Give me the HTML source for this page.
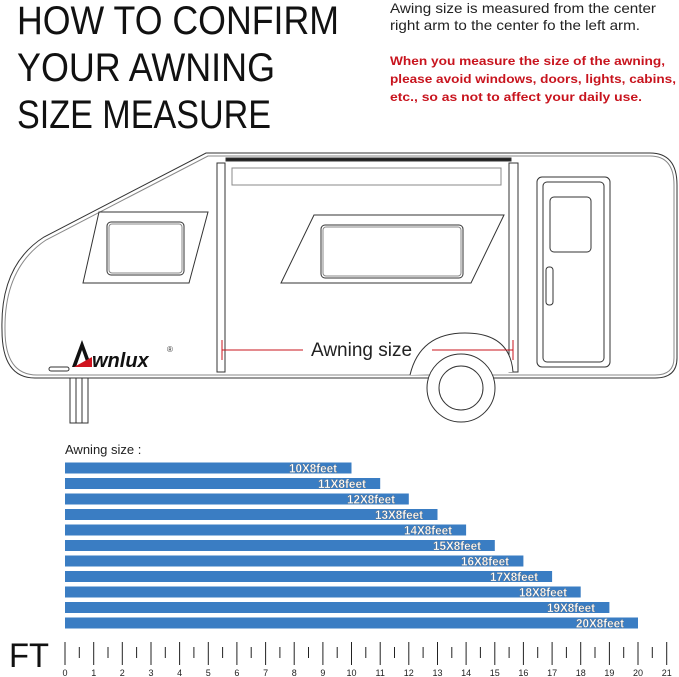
<!DOCTYPE html>
<html><head><meta charset="utf-8"><style>
html,body{margin:0;padding:0;background:#fff;}
svg{display:block;}
</style></head><body>
<svg width="679" height="677" viewBox="0 0 679 677" xmlns="http://www.w3.org/2000/svg" font-family="Liberation Sans, sans-serif">
<rect width="679" height="677" fill="#fff"/>
<g font-size="40" fill="#111">
<text x="17" y="34" textLength="322" lengthAdjust="spacingAndGlyphs">HOW TO CONFIRM</text>
<text x="17" y="81" textLength="258" lengthAdjust="spacingAndGlyphs">YOUR AWNING</text>
<text x="17" y="128" textLength="254" lengthAdjust="spacingAndGlyphs">SIZE MEASURE</text>
</g>
<g font-size="14" fill="#222">
<text x="390" y="13" textLength="266" lengthAdjust="spacingAndGlyphs">Awing size is measured from the center</text>
<text x="390" y="30" textLength="250" lengthAdjust="spacingAndGlyphs">right arm to the center fo the left arm.</text>
</g>
<g font-size="12" font-weight="bold" fill="#c8141e">
<text x="390" y="65" textLength="275" lengthAdjust="spacingAndGlyphs">When you measure the size of the awning,</text>
<text x="390" y="83" textLength="286" lengthAdjust="spacingAndGlyphs">please avoid windows, doors, lights, cabins,</text>
<text x="390" y="101" textLength="252" lengthAdjust="spacingAndGlyphs">etc., so as not to affect your daily use.</text>
</g>
<!-- trailer -->
<g fill="none" stroke="#333" stroke-width="1">
<path d="M206,153 L650,153 Q677,153 677,185 L677,358 Q677,378 655,378 L35,378 Q2,378 2,330 Q0,265 44,237 Z"/>
<path d="M208,156 L650,156 Q674,156 674,185 L674,358 Q674,375 655,375 L37,375 Q5,375 5,330 Q4,268 46,240 Z" stroke="#888"/>
<rect x="226" y="158" width="285" height="3" fill="#222"/>
<rect x="232" y="168" width="269" height="17" stroke="#888"/>
<rect x="217" y="163" width="8" height="209" fill="#fff"/>
<rect x="509" y="163" width="9" height="209" fill="#fff"/>
<path d="M99,212 L208,212 L189,283 L83,283 Z"/>
<rect x="107" y="222" width="77" height="53" rx="4"/>
<rect x="109" y="224" width="73" height="49" rx="3" stroke="#888"/>
<path d="M314,215 L504,215 L471,283 L281,283 Z"/>
<rect x="321" y="225" width="142" height="53" rx="4"/>
<rect x="323" y="227" width="138" height="49" rx="3" stroke="#888"/>
<rect x="537" y="177" width="73" height="190" rx="5"/>
<rect x="543" y="182" width="61" height="180" rx="4"/>
<rect x="550" y="197" width="41" height="55" rx="4"/>
<rect x="546" y="267" width="7" height="38" rx="3"/>
<path d="M410,375 Q420,333 465,333 Q510,333 513,372" fill="#fff"/>
<circle cx="461" cy="388" r="34" fill="#fff"/>
<circle cx="461" cy="388" r="22"/>
<rect x="70" y="378" width="18" height="45"/>
<line x1="76" y1="378" x2="76" y2="423"/><line x1="82" y1="378" x2="82" y2="423"/>
<rect x="49" y="367" width="20" height="4" rx="2"/>
</g>
<g stroke="#c8141e" stroke-width="1">
<line x1="222" y1="350" x2="303" y2="350"/>
<line x1="432" y1="350" x2="513" y2="350"/>
<line x1="222" y1="340" x2="222" y2="360"/>
<line x1="513" y1="340" x2="513" y2="360"/>
</g>
<text x="311" y="356" font-size="19" fill="#222">Awning size</text>
<!-- logo -->
<path d="M72,367 L82,340 L92,367 L88,367 L82,350 L76,367 Z" fill="#111"/>
<path d="M74,367 L92,357 L92,367 Z" fill="#d0141e"/>
<text x="92" y="367" font-size="20" font-weight="bold" font-style="italic" fill="#111">wnlux</text>
<text x="167" y="352" font-size="8" fill="#333">®</text>
<!-- bars -->
<text x="65" y="454" font-size="13" fill="#222">Awning size :</text>
<g fill="#3a7dc3">
<rect x="65" y="462.5" width="286.5" height="11"/>
<rect x="65" y="478" width="315.2" height="11"/>
<rect x="65" y="493.5" width="343.8" height="11"/>
<rect x="65" y="509" width="372.5" height="11"/>
<rect x="65" y="524.5" width="401.1" height="11"/>
<rect x="65" y="540" width="429.8" height="11"/>
<rect x="65" y="555.5" width="458.4" height="11"/>
<rect x="65" y="571" width="487.1" height="11"/>
<rect x="65" y="586.5" width="515.7" height="11"/>
<rect x="65" y="602" width="544.4" height="11"/>
<rect x="65" y="617.5" width="573" height="11"/>
</g>
<g font-size="12" font-weight="bold" fill="#fff" stroke="#6a6a6a" stroke-width="0.3" text-anchor="end">
<text x="337" y="472.5" textLength="48" lengthAdjust="spacingAndGlyphs">10X8feet</text>
<text x="366" y="488" textLength="48" lengthAdjust="spacingAndGlyphs">11X8feet</text>
<text x="395" y="503.5" textLength="48" lengthAdjust="spacingAndGlyphs">12X8feet</text>
<text x="423" y="519" textLength="48" lengthAdjust="spacingAndGlyphs">13X8feet</text>
<text x="452" y="534.5" textLength="48" lengthAdjust="spacingAndGlyphs">14X8feet</text>
<text x="481" y="550" textLength="48" lengthAdjust="spacingAndGlyphs">15X8feet</text>
<text x="509" y="565.5" textLength="48" lengthAdjust="spacingAndGlyphs">16X8feet</text>
<text x="538" y="581" textLength="48" lengthAdjust="spacingAndGlyphs">17X8feet</text>
<text x="567" y="596.5" textLength="48" lengthAdjust="spacingAndGlyphs">18X8feet</text>
<text x="595" y="612" textLength="48" lengthAdjust="spacingAndGlyphs">19X8feet</text>
<text x="624" y="627.5" textLength="48" lengthAdjust="spacingAndGlyphs">20X8feet</text>
</g>
<text x="9" y="667" font-size="34" fill="#111" textLength="40" lengthAdjust="spacingAndGlyphs">FT</text>
<g stroke="#222" stroke-width="1">
<line x1="65" y1="642" x2="65" y2="665"/><line x1="79.3" y1="647" x2="79.3" y2="658"/>
<line x1="93.7" y1="642" x2="93.7" y2="665"/><line x1="108" y1="647" x2="108" y2="658"/>
<line x1="122.3" y1="642" x2="122.3" y2="665"/><line x1="136.6" y1="647" x2="136.6" y2="658"/>
<line x1="151" y1="642" x2="151" y2="665"/><line x1="165.3" y1="647" x2="165.3" y2="658"/>
<line x1="179.6" y1="642" x2="179.6" y2="665"/><line x1="193.9" y1="647" x2="193.9" y2="658"/>
<line x1="208.3" y1="642" x2="208.3" y2="665"/><line x1="222.6" y1="647" x2="222.6" y2="658"/>
<line x1="236.9" y1="642" x2="236.9" y2="665"/><line x1="251.2" y1="647" x2="251.2" y2="658"/>
<line x1="265.6" y1="642" x2="265.6" y2="665"/><line x1="279.9" y1="647" x2="279.9" y2="658"/>
<line x1="294.2" y1="642" x2="294.2" y2="665"/><line x1="308.5" y1="647" x2="308.5" y2="658"/>
<line x1="322.9" y1="642" x2="322.9" y2="665"/><line x1="337.2" y1="647" x2="337.2" y2="658"/>
<line x1="351.5" y1="642" x2="351.5" y2="665"/><line x1="365.8" y1="647" x2="365.8" y2="658"/>
<line x1="380.2" y1="642" x2="380.2" y2="665"/><line x1="394.5" y1="647" x2="394.5" y2="658"/>
<line x1="408.8" y1="642" x2="408.8" y2="665"/><line x1="423.1" y1="647" x2="423.1" y2="658"/>
<line x1="437.5" y1="642" x2="437.5" y2="665"/><line x1="451.8" y1="647" x2="451.8" y2="658"/>
<line x1="466.1" y1="642" x2="466.1" y2="665"/><line x1="480.4" y1="647" x2="480.4" y2="658"/>
<line x1="494.8" y1="642" x2="494.8" y2="665"/><line x1="509.1" y1="647" x2="509.1" y2="658"/>
<line x1="523.4" y1="642" x2="523.4" y2="665"/><line x1="537.7" y1="647" x2="537.7" y2="658"/>
<line x1="552.1" y1="642" x2="552.1" y2="665"/><line x1="566.4" y1="647" x2="566.4" y2="658"/>
<line x1="580.7" y1="642" x2="580.7" y2="665"/><line x1="595" y1="647" x2="595" y2="658"/>
<line x1="609.4" y1="642" x2="609.4" y2="665"/><line x1="623.7" y1="647" x2="623.7" y2="658"/>
<line x1="638" y1="642" x2="638" y2="665"/><line x1="652.3" y1="647" x2="652.3" y2="658"/>
<line x1="666.7" y1="642" x2="666.7" y2="665"/>
</g>
<g font-size="9" fill="#222" text-anchor="middle">
<text x="65" y="676">0</text><text x="93.7" y="676">1</text><text x="122.3" y="676">2</text><text x="151" y="676">3</text><text x="179.6" y="676">4</text><text x="208.3" y="676">5</text><text x="236.9" y="676">6</text><text x="265.6" y="676">7</text><text x="294.2" y="676">8</text><text x="322.9" y="676">9</text><text x="351.5" y="676">10</text><text x="380.2" y="676">11</text><text x="408.8" y="676">12</text><text x="437.5" y="676">13</text><text x="466.1" y="676">14</text><text x="494.8" y="676">15</text><text x="523.4" y="676">16</text><text x="552.1" y="676">17</text><text x="580.7" y="676">18</text><text x="609.4" y="676">19</text><text x="638" y="676">20</text><text x="666.7" y="676">21</text>
</g>
</svg>
</body></html>
